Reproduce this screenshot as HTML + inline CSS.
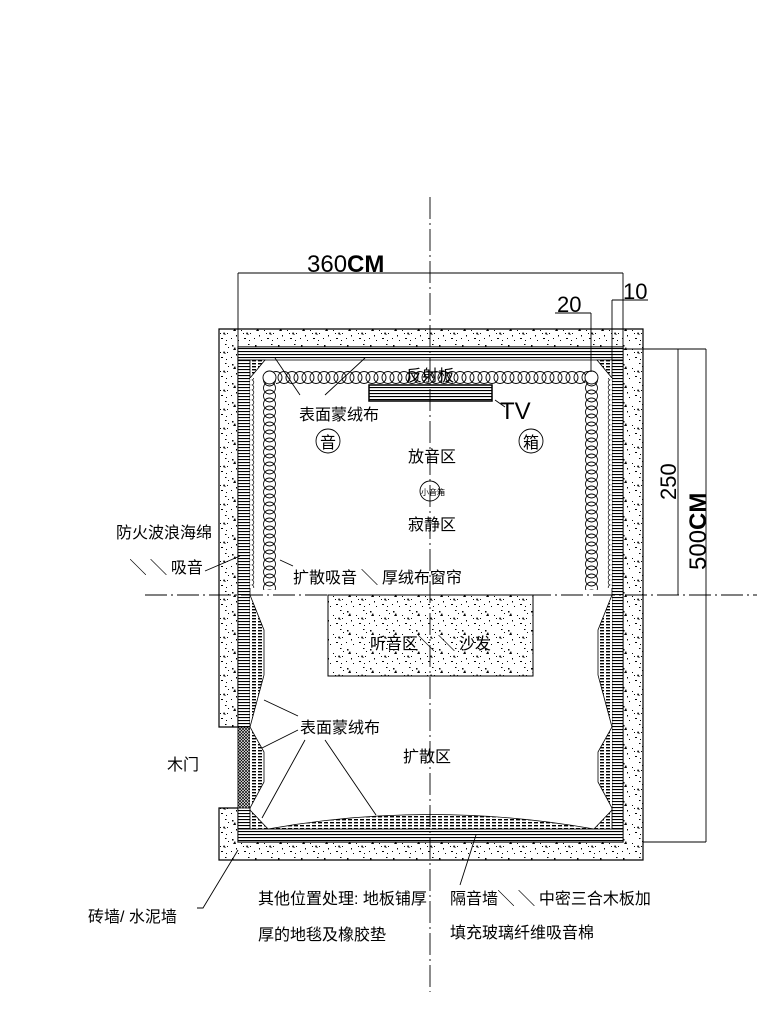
<!DOCTYPE html>
<html><head><meta charset="utf-8"><style>
html,body{margin:0;padding:0;background:#fff;}
svg{display:block}
text{font-family:"Liberation Sans","Noto Sans CJK SC",sans-serif;fill:#000}
</style></head><body>
<svg width="767" height="1012" viewBox="0 0 767 1012" xmlns="http://www.w3.org/2000/svg">
<defs>
<pattern id="conc" width="23" height="19" patternUnits="userSpaceOnUse">
<rect width="23" height="19" fill="#fff"/>
<g fill="#000">
<rect x="2" y="3" width="1.5" height="1.5"/><rect x="11" y="7" width="1" height="1"/><rect x="18" y="2" width="1.5" height="1"/>
<rect x="6" y="12" width="1" height="1.5"/><rect x="14" y="15" width="2" height="1"/><rect x="20" y="10" width="1" height="1"/>
<rect x="8" y="17" width="1" height="1"/><rect x="19" y="17" width="1" height="1"/><rect x="13" y="10" width="1" height="1"/>
<path d="M3 8 l3 0 l-1 -3z"/><path d="M16 11 l3 1 l-2 -3z"/><rect x="21" y="5" width="1" height="1"/><rect x="1" y="15" width="1" height="1"/>
</g>
</pattern>
<pattern id="stripe" width="10" height="3" patternUnits="userSpaceOnUse">
<rect width="10" height="3" fill="#fff"/><rect y="0" width="10" height="1.1" fill="#000"/>
</pattern>
<pattern id="hatch" width="6" height="3" patternUnits="userSpaceOnUse">
<rect width="6" height="3" fill="#fff"/><rect width="4" height="1.4" fill="#000"/>
</pattern>
<pattern id="cross" width="3" height="3" patternUnits="userSpaceOnUse">
<rect width="3" height="3" fill="#fff"/><path d="M0 0L3 3M3 0L0 3" stroke="#000" stroke-width="0.7"/>
</pattern>
<pattern id="hc" x="0" y="371" width="8" height="13" patternUnits="userSpaceOnUse">
<rect width="8" height="13" fill="#fff"/>
<g fill="none" stroke="#000" stroke-width="0.9"><circle cx="4" cy="6.5" r="6"/><circle cx="-4" cy="6.5" r="6"/><circle cx="12" cy="6.5" r="6"/></g>
</pattern>
<pattern id="vc" x="263" y="0" width="13" height="8" patternUnits="userSpaceOnUse">
<rect width="13" height="8" fill="#fff"/>
<g fill="none" stroke="#000" stroke-width="0.9"><circle cx="6.5" cy="4" r="6"/><circle cx="6.5" cy="-4" r="6"/><circle cx="6.5" cy="12" r="6"/></g>
</pattern>
<pattern id="vc2" x="585" y="0" width="13" height="8" patternUnits="userSpaceOnUse">
<rect width="13" height="8" fill="#fff"/>
<g fill="none" stroke="#000" stroke-width="0.9"><circle cx="6.5" cy="4" r="6"/><circle cx="6.5" cy="-4" r="6"/><circle cx="6.5" cy="12" r="6"/></g>
</pattern>
<pattern id="sc" x="250" y="0" width="6" height="5" patternUnits="userSpaceOnUse">
<rect width="6" height="5" fill="#fff"/>
<g fill="none" stroke="#000" stroke-width="0.7"><circle cx="1" cy="2.5" r="2.8"/></g>
</pattern>
<pattern id="sc2" x="606" y="0" width="6" height="5" patternUnits="userSpaceOnUse">
<rect width="6" height="5" fill="#fff"/>
<g fill="none" stroke="#000" stroke-width="0.7"><circle cx="5" cy="2.5" r="2.8"/></g>
</pattern>
</defs>

<path d="M219 329 H643 V860 H219 V808 H238 V842 H623 V347 H238 V727 H219 Z" fill="url(#conc)" stroke="#000" stroke-width="1.2" fill-rule="evenodd"/>
<rect x="238" y="347" width="385" height="13" fill="url(#stripe)" stroke="#000" stroke-width="0.8"/>
<rect x="238" y="829" width="385" height="13" fill="url(#stripe)" stroke="#000" stroke-width="0.8"/>
<rect x="238" y="360" width="12" height="469" fill="url(#stripe)" stroke="#000" stroke-width="0.8"/>
<rect x="612" y="360" width="11" height="469" fill="url(#stripe)" stroke="#000" stroke-width="0.8"/>
<rect x="238" y="727" width="12" height="81" fill="url(#cross)" stroke="#000" stroke-width="0.8"/>
<path d="M250 360 H265 L250 378 Z" fill="url(#hatch)" stroke="#000" stroke-width="0.8"/>
<path d="M612 360 H597 L612 378 Z" fill="url(#hatch)" stroke="#000" stroke-width="0.8"/>
<rect x="250" y="378" width="5" height="210" fill="url(#sc)"/>
<rect x="607" y="378" width="5" height="210" fill="url(#sc2)"/>
<rect x="270" y="371" width="320" height="13" fill="url(#hc)"/>
<rect x="263" y="378" width="13" height="212" fill="url(#vc)"/>
<rect x="585" y="378" width="13" height="212" fill="url(#vc2)"/>
<circle cx="269.5" cy="377.5" r="6.5" fill="#fff" stroke="#000" stroke-width="0.9"/>
<circle cx="591.5" cy="377.5" r="6.5" fill="#fff" stroke="#000" stroke-width="0.9"/>
<rect x="369" y="385" width="123" height="16" fill="url(#stripe)" stroke="#000" stroke-width="1.5"/>
<path d="M250 595 L264 630 L264 675 L250 727 L264 752 L264 782 L250 808 L250 829 L268 829 L250 810" fill="url(#hatch)" stroke="#000" stroke-width="0.8"/>
<path d="M612 595 L598 630 L598 675 L612 727 L598 752 L598 782 L612 808 L612 829 L594 829 L612 810" fill="url(#hatch)" stroke="#000" stroke-width="0.8"/>
<path d="M268 829 Q430 800 594 829 Z" fill="url(#hatch)" stroke="#000" stroke-width="0.8"/>
<rect x="328" y="595" width="205" height="81" fill="url(#conc)" stroke="#000" stroke-width="1"/>
<line x1="430" y1="197" x2="430" y2="992" stroke="#000" stroke-width="0.9" stroke-dasharray="22 4 2 4"/>
<line x1="145" y1="595" x2="757" y2="595" stroke="#000" stroke-width="0.9" stroke-dasharray="22 4 2 4"/>
<g stroke="#000" stroke-width="0.9" fill="none">
<line x1="238" y1="273" x2="623" y2="273"/>
<line x1="238" y1="273" x2="238" y2="347"/>
<line x1="623" y1="273" x2="623" y2="347"/>
<line x1="612" y1="300" x2="648" y2="300"/>
<line x1="612" y1="300" x2="612" y2="360"/>
<line x1="555" y1="313" x2="591" y2="313"/>
<line x1="591" y1="313" x2="591" y2="372"/>
<line x1="623" y1="349" x2="706" y2="349"/>
<line x1="678" y1="349" x2="678" y2="595"/>
<line x1="706" y1="349" x2="706" y2="842"/>
<line x1="643" y1="842" x2="706" y2="842"/>
<path d="M300 395 L275 358 M325 395 L365 358 M495 400 L505 407"/>
<path d="M298 716 L264 700 M298 730 L262 748 M305 740 L262 818 M325 740 L376 815"/>
<path d="M205 571 L240 556 M293 566 L280 560 M197 908 L203 908 L238 850 M460 885 L476 835"/>
<circle cx="328" cy="441" r="12"/><circle cx="531" cy="441" r="12"/><circle cx="430" cy="491" r="10"/>
</g>
<text x="307" y="272" font-size="24" font-weight="300">360<tspan font-weight="bold">CM</tspan></text>
<text x="557" y="312" font-size="22">20</text>
<text x="623" y="299" font-size="22">10</text>
<text transform="translate(676 500) rotate(-90)" font-size="22">250</text>
<text transform="translate(706 570) rotate(-90)" font-size="24">500<tspan font-weight="bold">CM</tspan></text>
<text x="500" y="419" font-size="24">TV</text>
<g font-size="16">
<text x="406" y="381">反射板</text>
<text x="299" y="420">表面蒙绒布</text>
<text x="320" y="448">音</text>
<text x="523" y="448">箱</text>
<text x="408" y="462">放音区</text>
<text x="408" y="530">寂静区</text>
<text x="116" y="538">防火波浪海绵</text>
<text x="130" y="573">╲ ╲ 吸音</text>
<text x="293" y="583">扩散吸音 ╲ 厚绒布窗帘</text>
<text x="370" y="649">听音区╲ ╲ 沙发</text>
<text x="300" y="733">表面蒙绒布</text>
<text x="403" y="762">扩散区</text>
<text x="167" y="770">木门</text>
<text x="88" y="922">砖墙/ 水泥墙</text>
<text x="258" y="904">其他位置处理: 地板铺厚</text>
<text x="258" y="940">厚的地毯及橡胶垫</text>
<text x="450" y="904">隔音墙╲ ╲ 中密三合木板加</text>
<text x="450" y="938">填充玻璃纤维吸音棉</text>
</g>
<text x="421" y="495" font-size="8">小音箱</text>
</svg>
</body></html>
